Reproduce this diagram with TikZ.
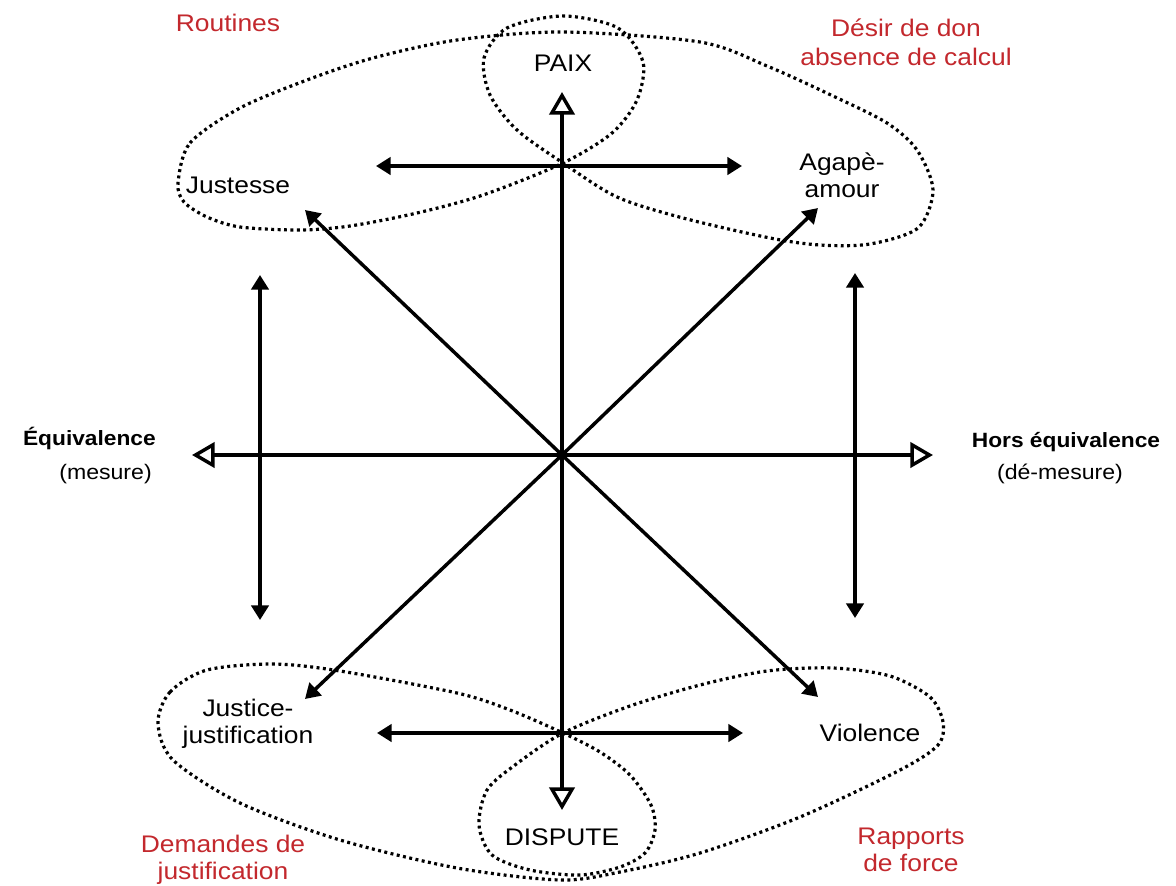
\documentclass[tikz,border=0pt]{standalone}
\usepackage{fontspec}
\setmainfont{Liberation Sans}[FakeStretch=1.1]
\usetikzlibrary{arrows.meta}
\definecolor{labelred}{RGB}{195,40,45}

\begin{document}
\begin{tikzpicture}[x=0.75pt, y=-0.75pt,
    axisarrow/.style={line width=2.6pt, -{Triangle[open, length=17pt, width=19pt, fill=white]}},
    dblarrow/.style={line width=2.6pt, {Triangle[length=11pt, width=13pt]}-{Triangle[length=11pt, width=13pt]}},
    diagarrow/.style={line width=2.6pt, -{Triangle[length=11pt, width=13pt]}},
    outline/.style={line width=2.4pt, dash pattern=on 2.2pt off 2.6pt},
    lbl/.style={font=\fontsize{18}{20}\selectfont, align=center, inner sep=0pt},
    redlbl/.style={lbl, text=labelred},
    sidelbl/.style={font=\fontsize{15.5}{18}\selectfont\bfseries, inner sep=0pt},
    sublbl/.style={font=\fontsize{15.75}{18}\selectfont, inner sep=0pt}]
  \path[use as bounding box, fill=white] (0,0) rectangle (1176,885);

  \draw[outline] plot[smooth cycle] coordinates {(178,183) (190,143) (240,108) (307,80) (373,58) (457,40) (563,32) (700,42) (767,66) (833,96) (887,123) (917,150) (933,190) (918,228) (870,244) (820,245) (770,238) (683,218) (617,197) (563,163) (517,130) (490,95) (484,58) (507,28) (563,16) (618,28) (643,62) (637,100) (612,133) (563,163) (483,195) (417,213) (350,226) (300,230) (240,227) (207,217) (184,202)};
  \draw[outline] plot[smooth cycle] coordinates {(158,723) (170,692) (207,670) (273,664) (340,671) (457,693) (510,710) (563,733) (600,752) (630,775) (651,805) (655,830) (645,853) (620,867) (580,875) (530,870) (492,855) (479,825) (487,790) (515,765) (563,733) (630,706) (700,685) (767,671) (833,668) (890,676) (930,697) (943,722) (938,745) (900,770) (800,817) (700,853) (620,872) (560,880) (457,868) (340,840) (240,803) (173,760)};

  \coordinate (O) at (562,455);
  \coordinate (paixtip) at (562,92);
  \coordinate (disputetip) at (562,810);
  \coordinate (eqtip) at (192,455);
  \coordinate (horstip) at (933,455);
  \coordinate (ul) at (305,210);
  \coordinate (ur) at (818,208);
  \coordinate (ll) at (305,699);
  \coordinate (lr) at (818,697);
  \coordinate (tl) at (376,166);
  \coordinate (tr) at (742,166);
  \coordinate (bl) at (377,733);
  \coordinate (br) at (743,733);
  \coordinate (lt) at (260,275);
  \coordinate (lb) at (260,620);
  \coordinate (rt) at (855,273);
  \coordinate (rb) at (855,618);

  \draw[axisarrow] (O) -- (paixtip);
  \draw[axisarrow] (O) -- (disputetip);
  \draw[axisarrow] (O) -- (eqtip);
  \draw[axisarrow] (O) -- (horstip);
  \foreach \t in {ul,ur,ll,lr}
    \draw[diagarrow] (O) -- (\t);
  \draw[dblarrow] (tl) -- (tr);
  \draw[dblarrow] (bl) -- (br);
  \draw[dblarrow] (lt) -- (lb);
  \draw[dblarrow] (rt) -- (rb);

  \node[lbl] (paix) at (563,63) {PAIX};
  \node[lbl] (justesse) at (238,185) {Justesse};
  \node[lbl] (agape) at (842,175) {Agapè-\\amour};
  \node[lbl] (justice) at (248,724) {Justice-\\justification};
  \node[lbl] (violence) at (870,733) {Violence};
  \node[lbl] (dispute) at (562,837) {DISPUTE};
  \node[redlbl] (routines) at (228,23) {Routines};
  \node[redlbl, font=\fontsize{18}{22}\selectfont] (desir) at (906,42) {Désir de don\\absence de calcul};
  \node[redlbl] (demandes) at (223,860) {Demandes de\\justification};
  \node[redlbl] (rapports) at (911,850) {Rapports\\de force};
  \node[sidelbl, anchor=base east] (equiv) at (156,445) {Équivalence};
  \node[sublbl, anchor=base east] (mesure) at (152,479) {(mesure)};
  \node[sidelbl, anchor=base] (hors) at (1066,447) {Hors équivalence};
  \node[sublbl, anchor=base] (demesure) at (1060,479) {(dé-mesure)};
\end{tikzpicture}
\end{document}
